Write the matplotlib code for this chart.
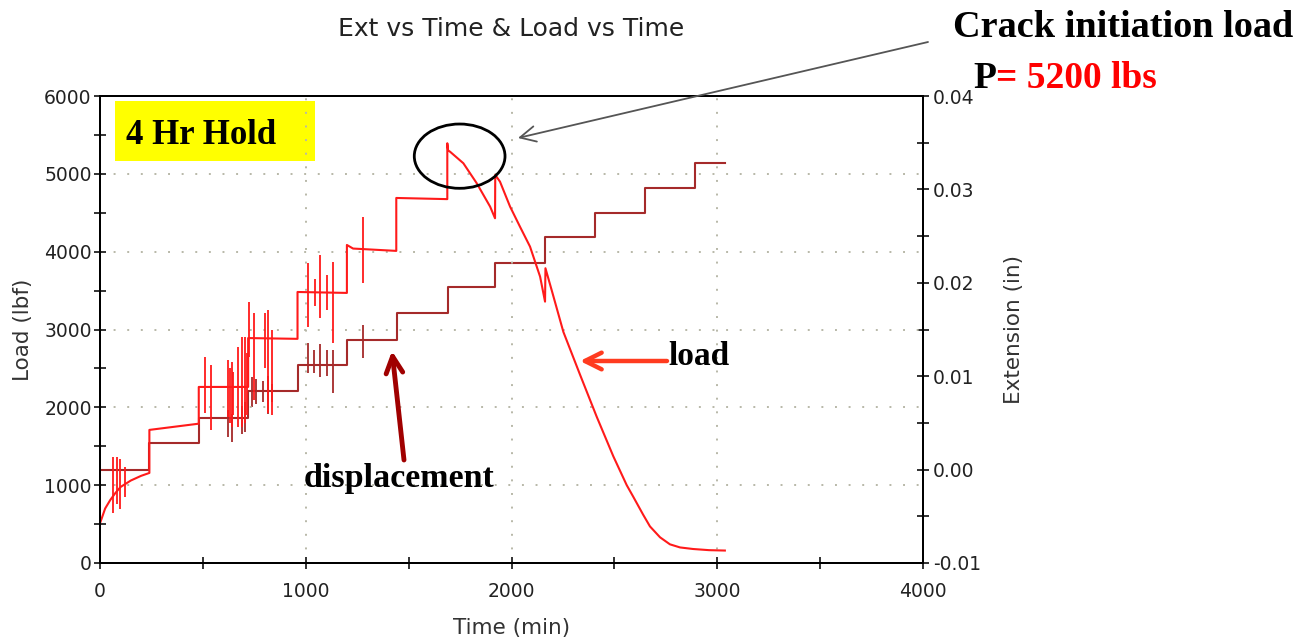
import matplotlib
matplotlib.use("Agg")
import matplotlib.pyplot as plt
from matplotlib.patches import Ellipse, Rectangle
from matplotlib.ticker import MultipleLocator, FormatStrFormatter

W, H = 1301, 639

# load (lbf) vs time (min)
load_time = [0, 25, 50, 75, 100, 150, 200, 240,
             240, 480,
             480, 720,
             720, 960,
             960, 1200,
             1200, 1230, 1440,
             1440, 1688,
             1688, 1692, 1701, 1766, 1831, 1896, 1920,
             1921, 1944, 1993, 2041, 2090, 2139, 2163,
             2165, 2195, 2252, 2333, 2414, 2495, 2560, 2592, 2640, 2673, 2722,
             2770, 2819, 2882, 2960, 3037]
load_lbf = [510, 700, 810, 900, 977, 1060, 1120, 1157,
            1710, 1790,
            2262, 2262,
            2890, 2880,
            3482, 3470,
            4086, 4040, 4010,
            4690, 4675,
            5393, 5300, 5285, 5136, 4879, 4579, 4429,
            4986, 4900, 4579, 4322, 4065, 3679, 3358,
            3787, 3508, 2970, 2420, 1880, 1370, 1000, 850, 620, 470, 330,
            240, 200, 180, 165, 160]

# noise spikes on the load trace
load_spike_t = [63, 83, 97, 122, 510, 539, 622, 630, 640, 647, 671, 690, 705, 714,
                724, 748, 802, 816, 836, 1011, 1045, 1069, 1103, 1132, 1278]
load_spike_hi = [1360, 1360, 1330, 1230, 2650, 2540, 2610, 2500, 2580, 2450, 2780, 2900, 2900, 2700,
                 3350, 3210, 3210, 3250, 3000, 3860, 3650, 3960, 3700, 3870, 4450]
load_spike_lo = [640, 760, 700, 850, 1930, 1710, 1880, 1800, 1750, 1900, 1750, 1750, 1800, 1900,
                 2650, 2100, 2500, 1930, 1900, 3030, 3300, 3150, 3250, 2830, 3600]

# extension (in), 4 hr hold steps
disp_time = [0, 240, 483, 720, 960, 1200, 1442, 1690, 1920, 2163, 2406, 2649, 2892, 3037]
disp_ext = [0.0, 0.0029, 0.0055, 0.0084, 0.0112, 0.0139, 0.0168, 0.0195, 0.0221,
            0.0249, 0.0275, 0.0302, 0.0328, 0.0328]

disp_spike_t = [622, 640, 690, 705, 740, 760, 790, 816, 836, 1011, 1040, 1069, 1103, 1132, 1278]
disp_spike_hi = [0.0064, 0.0060, 0.0068, 0.0072, 0.0099, 0.0097, 0.0095, 0.0100, 0.0092,
                 0.0136, 0.0128, 0.0134, 0.0128, 0.0128, 0.0155]
disp_spike_lo = [0.0035, 0.0030, 0.0038, 0.0040, 0.0067, 0.0070, 0.0072, 0.0060, 0.0072,
                 0.0103, 0.0103, 0.0099, 0.0100, 0.0082, 0.0119]

load_color = '#ff1a1a'
disp_color = '#a52a2a'


def px(x, y):
    # picture pixels -> figure fraction
    return (x / W, 1 - y / H)


fig = plt.figure(figsize=(W / 100, H / 100), dpi=100)
ax = fig.add_axes([100 / W, 76 / H, 823 / W, 467 / H])
ax2 = ax.twinx()

ax.plot(load_time, load_lbf, color=load_color, lw=1.5)
ax.vlines(load_spike_t, load_spike_lo, load_spike_hi, color=load_color, lw=1.3)

ax2.plot(disp_time, disp_ext, color=disp_color, lw=1.5, drawstyle='steps-post')
ax2.vlines(disp_spike_t, disp_spike_lo, disp_spike_hi, color=disp_color, lw=1.3)

# load on top of the twin axes
ax.set_zorder(ax2.get_zorder() + 1)
ax.patch.set_visible(False)

ax.set_xlim(0, 4000)
ax.set_ylim(0, 6000)
ax2.set_ylim(-0.01, 0.04)

ax.xaxis.set_major_locator(MultipleLocator(1000))
ax.xaxis.set_minor_locator(MultipleLocator(500))
ax.yaxis.set_major_locator(MultipleLocator(1000))
ax.yaxis.set_minor_locator(MultipleLocator(500))
ax2.yaxis.set_major_locator(MultipleLocator(0.01))
ax2.yaxis.set_minor_locator(MultipleLocator(0.005))
ax2.yaxis.set_major_formatter(FormatStrFormatter('%.2f'))

for a in (ax, ax2):
    a.tick_params(which='both', direction='inout', length=8, width=1.3,
                  labelsize=13.5, colors='#222222')
    for s in a.spines.values():
        s.set_linewidth(1.4)
ax.tick_params(axis='y', pad=2)
ax.tick_params(axis='x', pad=10)
ax2.tick_params(axis='y', pad=3)

for t in (1000, 2000, 3000):
    ax.axvline(t, color='#b8b8a8', lw=1.4, ls=(0, (1, 6)), zorder=0)
for v in (1000, 2000, 3000, 4000, 5000):
    ax.axhline(v, color='#b8b8a8', lw=1.4, ls=(0, (1, 6)), zorder=0)

ax.set_xlabel('Time (min)', fontsize=15.5, color='#333333', labelpad=12)
ax.set_ylabel('Load (lbf)', fontsize=15.5, color='#333333', labelpad=8)
ax2.set_ylabel('Extension (in)', fontsize=15.5, color='#333333', labelpad=17)
ax.set_title('Ext vs Time & Load vs Time', fontsize=18, color='#222222', pad=43)

# circle round the crack initiation peak
ax.add_patch(Ellipse((1748, 5227), 441, 826, fill=False, ec='black', lw=2, zorder=5))

serif = 'Liberation Serif'

# yellow "4 Hr Hold" box
fig.add_artist(Rectangle(px(115, 161), 200 / W, 60 / H, transform=fig.transFigure,
                         facecolor='#ffff00', edgecolor='none'))
fig.text(*px(126, 144), '4 Hr Hold', fontsize=25, fontweight='bold', family=serif,
         ha='left', va='baseline')

fig.text(*px(953, 37), 'Crack initiation load', fontsize=27.5, fontweight='bold',
         family=serif, ha='left', va='baseline')
fig.text(*px(973, 88), 'P', fontsize=27, fontweight='bold', family=serif,
         ha='left', va='baseline')
fig.text(*px(996, 88), '= 5200 lbs', fontsize=27, fontweight='bold', family=serif,
         color='#ff0000', ha='left', va='baseline')

fig.text(*px(668, 365), 'load', fontsize=24, fontweight='bold', family=serif,
         ha='left', va='baseline')
fig.text(*px(304, 487), 'displacement', fontsize=24.5, fontweight='bold', family=serif,
         ha='left', va='baseline')

ax.annotate('', xy=px(518, 138), xytext=px(928, 42), xycoords='figure fraction',
            textcoords='figure fraction', annotation_clip=False,
            arrowprops=dict(arrowstyle='->', color='#555555', lw=1.3,
                            mutation_scale=28, shrinkA=0, shrinkB=0))
ax.annotate('', xy=px(580, 361), xytext=px(667, 361), xycoords='figure fraction',
            textcoords='figure fraction', annotation_clip=False,
            arrowprops=dict(arrowstyle='->', color='#ff3b1f', lw=3.2,
                            mutation_scale=30, shrinkA=0, shrinkB=0))
ax.annotate('', xy=px(392, 351), xytext=px(404, 460), xycoords='figure fraction',
            textcoords='figure fraction', annotation_clip=False,
            arrowprops=dict(arrowstyle='->', color='#a00000', lw=3.5,
                            mutation_scale=30, shrinkA=0, shrinkB=0))

fig.savefig('out.png', dpi=100)
